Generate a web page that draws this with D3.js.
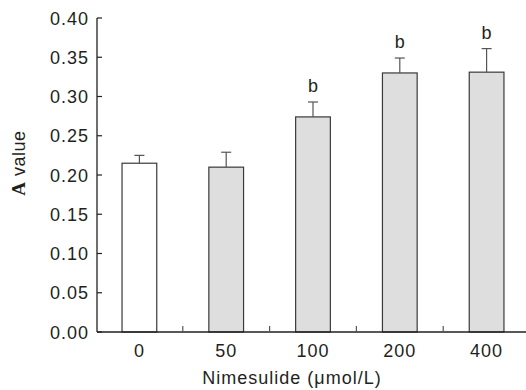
<!DOCTYPE html>
<html>
<head>
<meta charset="utf-8">
<script src="https://cdn.jsdelivr.net/npm/d3@7"></script>
<style>
  body { margin: 0; background: #fff; }
  text { font-family: "Liberation Sans", Arial, sans-serif; fill: #231f20; font-size: 18px; letter-spacing: 1px; }
</style>
</head>
<body>
<svg id="chart" width="526" height="390"></svg>
<script>
var categories = ["0", "50", "100", "200", "400"]
var means = [0.215, 0.210, 0.274, 0.330, 0.331]
var errors = [0.010, 0.019, 0.019, 0.019, 0.030]
var fills = ["#ffffff", "#dedede", "#dedede", "#dedede", "#dedede"]
var marks = ["", "", "b", "b", "b"]
var yTicks = [0, 0.05, 0.10, 0.15, 0.20, 0.25, 0.30, 0.35, 0.40]

var svg = d3.select("#chart")
var plotLeft = 97, plotRight = 530, plotTop = 18, plotBottom = 332

var x = d3.scaleBand().domain(categories).range([plotLeft - 1, plotRight]).paddingInner(0.6).paddingOuter(0.3)
var y = d3.scaleLinear().domain([0, 0.4]).range([plotBottom, plotTop])

// bars
svg.selectAll("rect.bar").data(categories).enter().append("rect")
  .attr("class", "bar")
  .attr("x", function(d) { return x(d) })
  .attr("y", function(d, i) { return y(means[i]) })
  .attr("width", x.bandwidth())
  .attr("height", function(d, i) { return plotBottom - y(means[i]) })
  .style("fill", function(d, i) { return fills[i] })
  .style("stroke", "#3a3a3a")
  .style("stroke-width", 1.2)

// error bars
var eb = svg.selectAll("g.err").data(categories).enter().append("g").attr("class", "err")
eb.append("line")
  .attr("x1", function(d) { return x(d) + x.bandwidth() / 2 })
  .attr("x2", function(d) { return x(d) + x.bandwidth() / 2 })
  .attr("y1", function(d, i) { return y(means[i]) })
  .attr("y2", function(d, i) { return y(means[i] + errors[i]) })
  .style("stroke", "#555").style("stroke-width", 1.2)
eb.append("line")
  .attr("x1", function(d) { return x(d) + x.bandwidth() / 2 - 5 })
  .attr("x2", function(d) { return x(d) + x.bandwidth() / 2 + 5 })
  .attr("y1", function(d, i) { return y(means[i] + errors[i]) })
  .attr("y2", function(d, i) { return y(means[i] + errors[i]) })
  .style("stroke", "#555").style("stroke-width", 1.2)

// significance letters
svg.selectAll("text.mark").data(categories).enter().append("text")
  .attr("class", "mark")
  .attr("x", function(d) { return x(d) + x.bandwidth() / 2 })
  .attr("y", function(d, i) { return y(means[i] + errors[i]) - 10 })
  .attr("text-anchor", "middle")
  .style("letter-spacing", "0px")
  .text(function(d, i) { return marks[i] })

// y axis
var ya = svg.append("g")
ya.append("line").attr("x1", plotLeft).attr("x2", plotLeft).attr("y1", plotTop).attr("y2", plotBottom)
  .style("stroke", "#231f20").style("stroke-width", 1.3)
ya.selectAll("line.tick").data(yTicks).enter().append("line")
  .attr("class", "tick")
  .attr("x1", plotLeft).attr("x2", plotLeft + 5)
  .attr("y1", function(d) { return y(d) }).attr("y2", function(d) { return y(d) })
  .style("stroke", "#231f20").style("stroke-width", 1.2)
ya.selectAll("text").data(yTicks).enter().append("text")
  .attr("x", plotLeft - 8)
  .attr("y", function(d) { return y(d) + 6.5 })
  .attr("text-anchor", "end")
  .text(function(d) { return d3.format(".2f")(d) })

// x axis
var xa = svg.append("g")
xa.append("line").attr("x1", plotLeft).attr("x2", 526).attr("y1", plotBottom).attr("y2", plotBottom)
  .style("stroke", "#231f20").style("stroke-width", 1.3)
xa.selectAll("line.tick").data(categories.slice(1)).enter().append("line")
  .attr("class", "tick")
  .attr("x1", function(d) { return x(d) - x.step() * x.paddingInner() / 2 })
  .attr("x2", function(d) { return x(d) - x.step() * x.paddingInner() / 2 })
  .attr("y1", plotBottom).attr("y2", plotBottom - 6)
  .style("stroke", "#555").style("stroke-width", 1.2)
xa.selectAll("text").data(categories).enter().append("text")
  .attr("x", function(d) { return x(d) + x.bandwidth() / 2 })
  .attr("y", 357)
  .attr("text-anchor", "middle")
  .text(function(d) { return d })

svg.append("text")
  .attr("x", 292).attr("y", 384)
  .attr("text-anchor", "middle")
  .text("Nimesulide (\u03bcmol/L)")

var yl = svg.append("text")
  .attr("transform", "translate(25,163) rotate(-90)")
  .attr("text-anchor", "middle")
  .style("letter-spacing", "0.5px")
yl.append("tspan").style("font-family", "'Liberation Serif', 'Times New Roman', serif").style("font-weight", "bold").style("font-size", "19px").text("A")
yl.append("tspan").text(" value")
</script>
</body>
</html>
